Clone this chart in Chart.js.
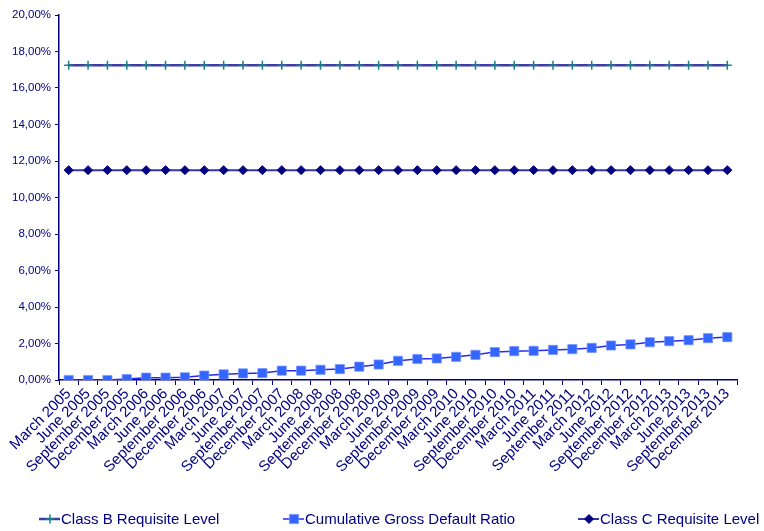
<!DOCTYPE html>
<html lang="en">
<head>
  <meta charset="UTF-8" />
  <title>Requisite levels vs cumulative gross default ratio</title>
  <script src="https://cdn.jsdelivr.net/npm/chart.js"></script>
  <style>
    body {
      margin: 0;
      background: #ffffff;
    }
    #wrap {
      width: 764px;
      height: 531px;
    }
  </style>
</head>
<body>
  <div id="wrap">
    <canvas id="ratioChart" width="764" height="531"></canvas>
  </div>

  <script>
    // quarterly reporting dates (December 2011 is not in the source chart)
    const quarters = [
      'March 2005', 'June 2005', 'September 2005', 'December 2005',
      'March 2006', 'June 2006', 'September 2006', 'December 2006',
      'March 2007', 'June 2007', 'September 2007', 'December 2007',
      'March 2008', 'June 2008', 'September 2008', 'December 2008',
      'March 2009', 'June 2009', 'September 2009', 'December 2009',
      'March 2010', 'June 2010', 'September 2010', 'December 2010',
      'March 2011', 'June 2011', 'September 2011',
      'March 2012', 'June 2012', 'September 2012', 'December 2012',
      'March 2013', 'June 2013', 'September 2013', 'December 2013'
    ];

    // values in percent
    const classB = [
      17.25, 17.25, 17.25, 17.25, 17.25, 17.25, 17.25, 17.25, 17.25, 17.25,
      17.25, 17.25, 17.25, 17.25, 17.25, 17.25, 17.25, 17.25, 17.25, 17.25,
      17.25, 17.25, 17.25, 17.25, 17.25, 17.25, 17.25, 17.25, 17.25, 17.25,
      17.25, 17.25, 17.25, 17.25, 17.25
    ];

    const cumulativeDefault = [
      0.00, 0.00, 0.00, 0.05, 0.13, 0.13, 0.15, 0.24, 0.31, 0.36,
      0.38, 0.51, 0.51, 0.56, 0.60, 0.73, 0.85, 1.05, 1.15, 1.18,
      1.27, 1.38, 1.53, 1.58, 1.60, 1.65, 1.69, 1.76, 1.89, 1.95,
      2.07, 2.13, 2.18, 2.29, 2.35
    ];

    const classC = [
      11.5, 11.5, 11.5, 11.5, 11.5, 11.5, 11.5, 11.5, 11.5, 11.5,
      11.5, 11.5, 11.5, 11.5, 11.5, 11.5, 11.5, 11.5, 11.5, 11.5,
      11.5, 11.5, 11.5, 11.5, 11.5, 11.5, 11.5, 11.5, 11.5, 11.5,
      11.5, 11.5, 11.5, 11.5, 11.5
    ];

    const yMin = 0;
    const yMax = 20;
    const yStep = 2;

    const navy = '#000080';
    const fontFamily = "'Liberation Sans', Arial, sans-serif";

    function pct(v) {
      return v.toFixed(2).replace('.', ',') + '%';
    }

    // legend drawn under the axis labels: line + marker + text, like the excel original
    const legendSpots = [39 / 764, 283 / 764, 578 / 764];

    const lineLegend = {
      id: 'lineLegend',
      afterDraw(chart) {
        const ctx = chart.ctx;
        const y = chart.height - 12;
        ctx.save();
        ctx.font = '15px ' + fontFamily;
        ctx.textBaseline = 'middle';
        ctx.textAlign = 'left';
        chart.data.datasets.forEach((ds, i) => {
          const x = legendSpots[i] * chart.width;
          ctx.strokeStyle = ds.borderColor;
          ctx.lineWidth = ds.borderWidth;
          ctx.beginPath();
          ctx.moveTo(x, y);
          ctx.lineTo(x + 21, y);
          ctx.stroke();
          ctx.fillStyle = ds.pointBackgroundColor;
          ctx.strokeStyle = ds.pointBorderColor;
          ctx.lineWidth = ds.pointBorderWidth;
          Chart.helpers.drawPoint(ctx, {
            pointStyle: ds.pointStyle,
            radius: ds.pointRadius,
            rotation: 0,
            borderWidth: ds.pointBorderWidth
          }, x + 11, y);
          ctx.fillStyle = navy;
          ctx.fillText(ds.label, x + 22, y + 1);
        });
        ctx.restore();
      }
    };

    const ctx = document.getElementById('ratioChart').getContext('2d');

    const chart = new Chart(ctx, {
      type: 'line',
      data: {
        labels: quarters,
        datasets: [
          {
            label: 'Class B Requisite Level',
            data: classB,
            borderColor: '#3c3ca4',
            borderWidth: 2.5,
            pointStyle: 'cross',
            pointRadius: 4.5,
            pointBorderColor: '#168484',
            pointBackgroundColor: '#168484',
            pointBorderWidth: 1.5
          },
          {
            label: 'Cumulative Gross Default Ratio',
            data: cumulativeDefault,
            borderColor: '#2a2af0',
            borderWidth: 1.5,
            pointStyle: 'rect',
            pointRadius: 6.5,
            pointBorderColor: 'rgba(120,150,255,0.7)',
            pointBackgroundColor: '#3366ff',
            pointBorderWidth: 1
          },
          {
            label: 'Class C Requisite Level',
            data: classC,
            borderColor: '#3434a6',
            borderWidth: 2,
            pointStyle: 'rectRot',
            pointRadius: 4.5,
            pointBorderColor: navy,
            pointBackgroundColor: navy,
            pointBorderWidth: 1
          }
        ]
      },
      options: {
        responsive: false,
        animation: false,
        layout: {
          padding: { left: 0, right: 27, top: 15, bottom: 0 }
        },
        plugins: {
          legend: { display: false },
          tooltip: { enabled: false }
        },
        elements: {
          line: { tension: 0 }
        },
        scales: {
          x: {
            type: 'category',
            offset: true,
            grid: {
              display: true,
              offset: true,
              drawOnChartArea: false,
              drawTicks: true,
              tickLength: 5,
              tickColor: navy,
              tickWidth: 1
            },
            border: { display: true, color: navy, width: 1.5 },
            ticks: {
              autoSkip: false,
              maxRotation: 45,
              minRotation: 45,
              padding: 0,
              color: navy,
              font: { family: fontFamily, size: 15 }
            },
            afterFit(scale) {
              scale.height = 151;
            }
          },
          y: {
            min: yMin,
            max: yMax,
            grid: {
              display: true,
              drawOnChartArea: false,
              drawTicks: true,
              tickLength: 4,
              tickColor: navy
            },
            border: { display: true, color: navy, width: 1.5 },
            ticks: {
              stepSize: yStep,
              padding: 4,
              color: navy,
              font: { family: fontFamily, size: 11.5 },
              callback: v => pct(v)
            },
            afterFit(scale) {
              scale.width = 59;
            }
          }
        }
      },
      plugins: [lineLegend]
    });
  </script>
</body>
</html>
